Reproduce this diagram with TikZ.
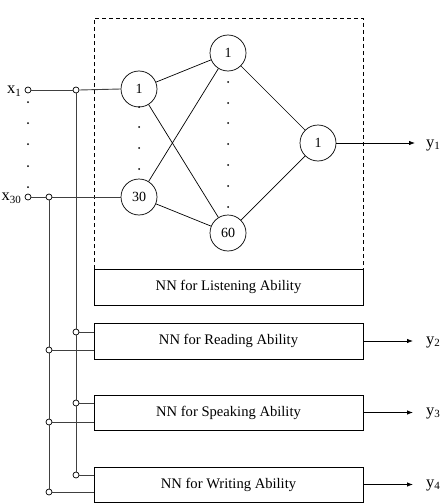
\documentclass[tikz,border=0pt]{standalone}
\usepackage{fontspec}
\setmainfont{Liberation Serif}
\usetikzlibrary{arrows.meta}
\newcommand{\lbl}[2]{#1\raisebox{-0.35ex}{\fontsize{11}{11}\selectfont #2}}
\begin{document}
\begin{tikzpicture}[x=1pt,y=-1pt,
  neuron/.style={circle,draw,line width=0.7pt,minimum size=36pt,inner sep=0pt,font=\fontsize{14}{16}\selectfont},
  nnbox/.style={draw,rectangle,line width=0.8pt,minimum width=269pt,inner sep=0pt,font=\fontsize{14.6}{17}\selectfont},
  term/.style={circle,draw,line width=0.7pt,fill=white,minimum size=6pt,inner sep=0pt},
  bus/.style={draw=black!75,line width=0.9pt},
  wire/.style={line width=0.7pt},
  outarrow/.style={line width=0.8pt,-{Latex[length=6pt,width=4.5pt]}},
  tinydot/.style={circle,fill,minimum size=2pt,inner sep=0pt},
  iolabel/.style={inner sep=0pt,font=\fontsize{16.5}{18}\selectfont}
]
\useasboundingbox (0,0) rectangle (444,503);

% network for listening: dashed frame and caption box
\draw[line width=0.7pt,dash pattern=on 4pt off 3pt] (94,269) -- (94,18) -- (363,18) -- (363,269);
\node[nnbox,minimum height=36pt] (listen) at (228.5,287) {NN for Listening Ability};

% neurons
\node[neuron] (in1)  at (139,89)  {1};
\node[neuron] (in30) at (139,197) {30};
\node[neuron] (h1)   at (228,53)  {1};
\node[neuron] (h60)  at (228,233) {60};
\node[neuron] (o1)   at (318,143) {1};

\foreach \y in {107,127,148,169} \node[tinydot] at (139,\y) {};
\foreach \y in {82,103,123,144,165,186,207} \node[tinydot] at (228,\y) {};

\draw[wire] (in1) -- (h1);
\draw[wire] (in1) -- (h60);
\draw[wire] (in30) -- (h1);
\draw[wire] (in30) -- (h60);
\draw[wire] (h1) -- (o1);
\draw[wire] (h60) -- (o1);

% the other three networks
\node[nnbox,minimum height=36pt] (read)  at (228.5,341)   {NN for Reading Ability};
\node[nnbox,minimum height=35pt] (speak) at (228.5,412.5) {NN for Speaking Ability};
\node[nnbox,minimum height=35pt] (write) at (228.5,484.5) {NN for Writing Ability};

% input terminals
\node[term] (t1)  at (28,90)  {};
\node[term] (t30) at (28,197) {};
\node[iolabel,anchor=east] (lx1)  at (21,91)  {\lbl{x}{1}};
\node[iolabel,anchor=east] (lx30) at (21,198) {\lbl{x}{30}};
\foreach \y in {102,123,144,166,187} \node[tinydot] at (28,\y) {};

% junctions on the two buses
\node[term] (j1)  at (76,90)  {};
\node[term] (j30) at (49,197) {};
\node[term] (ra)  at (76,332) {};
\node[term] (rb)  at (49,350) {};
\node[term] (sa)  at (76,403) {};
\node[term] (sb)  at (49,422) {};
\node[term] (wa)  at (76,475) {};
\node[term] (wb)  at (49,492) {};

% input lines
\draw[bus] (t1.east) -- (j1.west);
\draw[bus] (j1.east) -- (in1.west);
\draw[bus] (t30.east) -- (j30.west);
\draw[bus] (j30.east) -- (in30.west);

% bus carrying x1
\draw[bus] (j1.south) -- (ra.north);
\draw[bus] (ra.south) -- (sa.north);
\draw[bus] (sa.south) -- (wa.north);
% bus carrying x30
\draw[bus] (j30.south) -- (rb.north);
\draw[bus] (rb.south) -- (sb.north);
\draw[bus] (sb.south) -- (wb.north);

% feeds into the networks
\draw[bus] (ra.east) -- (read.west |- ra);
\draw[bus] (rb.east) -- (read.west |- rb);
\draw[bus] (sa.east) -- (speak.west |- sa);
\draw[bus] (sb.east) -- (speak.west |- sb);
\draw[bus] (wa.east) -- (write.west |- wa);
\draw[bus] (wb.east) -- (write.west |- wb);

% outputs
\coordinate (e1) at (415,143);
\coordinate (e2) at (413,341);
\coordinate (e3) at (413,412.5);
\coordinate (e4) at (413,484.5);
\draw[outarrow] (o1.east) -- (e1);
\draw[outarrow] (read.east) -- (e2);
\draw[outarrow] (speak.east) -- (e3);
\draw[outarrow] (write.east) -- (e4);
\node[iolabel,anchor=west] (ly1) at (426,145) {\lbl{y}{1}};
\node[iolabel,anchor=west] (ly2) at (426,342) {\lbl{y}{2}};
\node[iolabel,anchor=west] (ly3) at (426,413) {\lbl{y}{3}};
\node[iolabel,anchor=west] (ly4) at (426,485) {\lbl{y}{4}};
\end{tikzpicture}
\end{document}
